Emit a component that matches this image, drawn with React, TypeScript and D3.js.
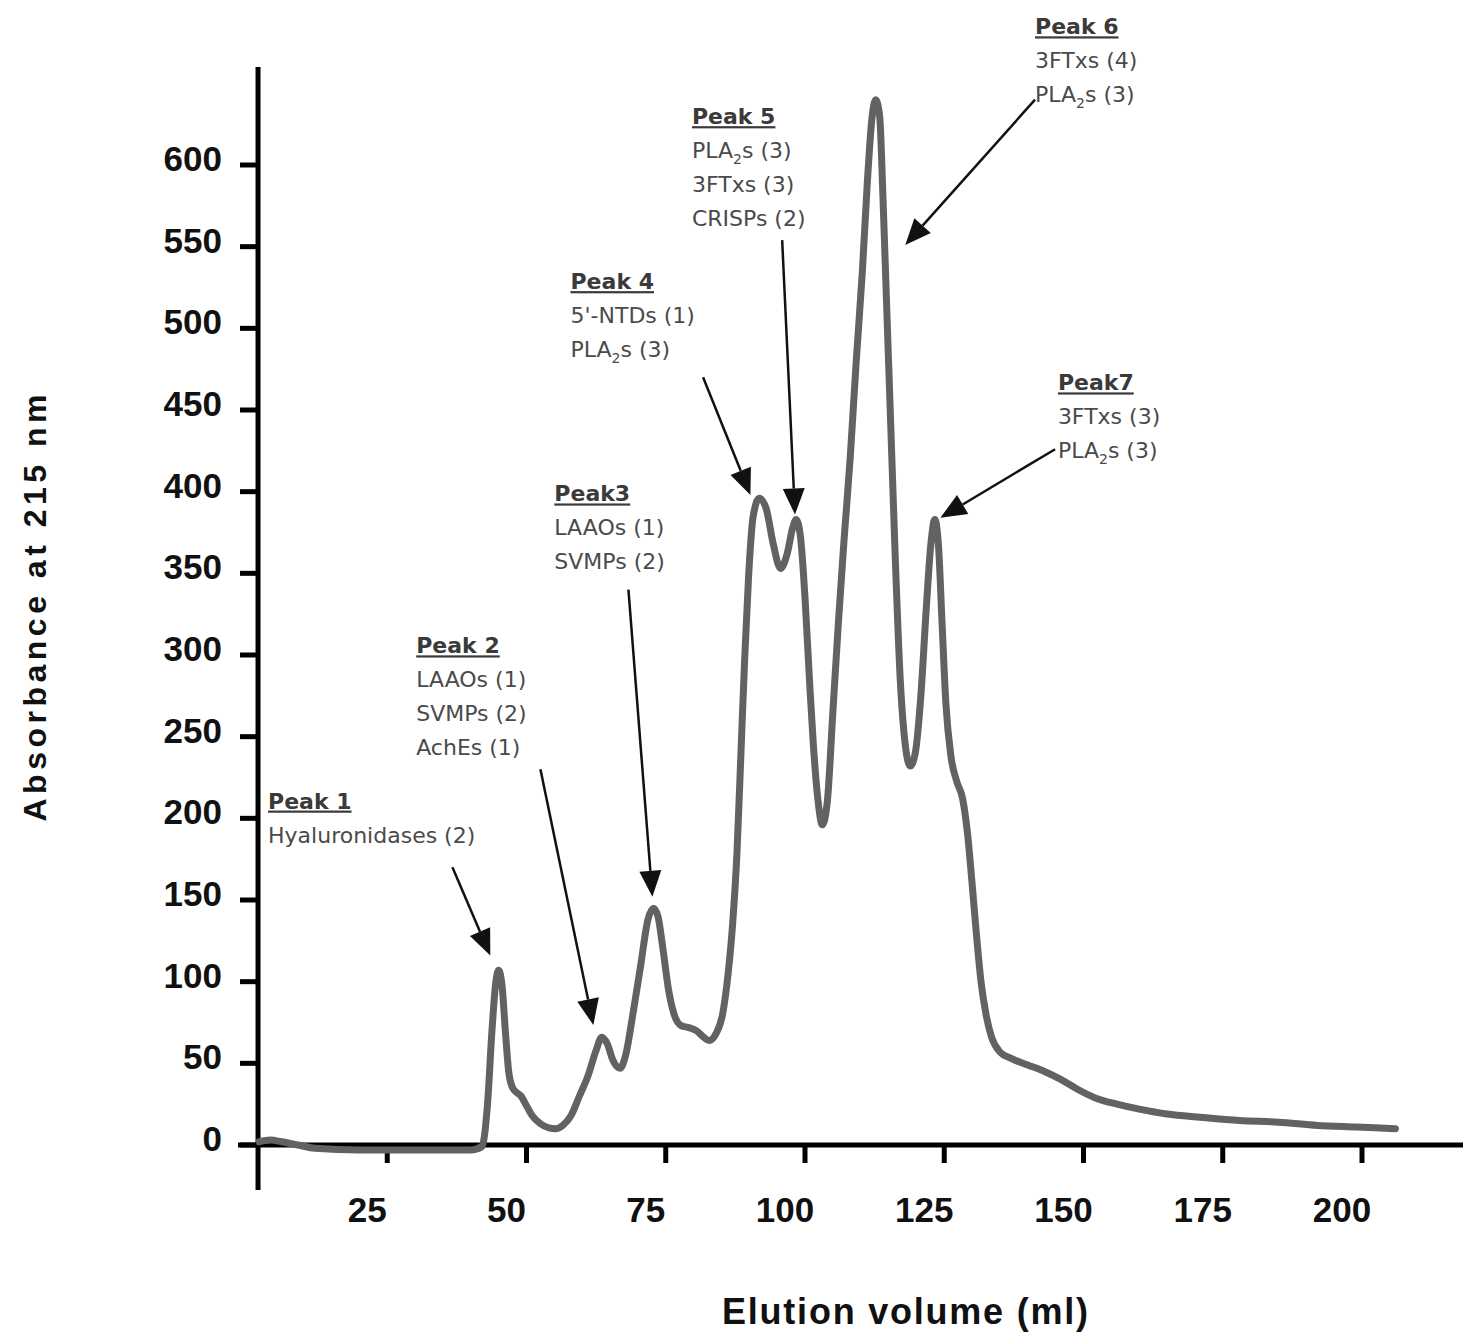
import React, { useEffect, useRef } from "react";
import * as d3 from "d3";

// elution profile
const elutionVolume = [
  2, 4, 6, 9, 12, 20, 30, 40, 42, 43, 43.8, 44.5, 45, 45.6, 46.2, 46.8, 47.5, 48.3, 49, 50,
  51, 52.5, 54, 55.2, 56.5, 58, 59.5, 61, 62.5, 63.5, 64.5, 65.5, 66.8, 67.8, 69, 70.5, 71.8, 72.8, 73.6, 74.5,
  75.5, 76.5, 77.8, 79, 80.5, 81.8, 82.8, 84, 85.2, 86.2, 87, 87.8, 88.5, 89.2, 89.9, 90.7, 91.8, 93, 94.3, 95.6,
  96.8, 97.8, 98.4, 99.2, 100, 100.8, 101.5, 102.3, 103.1, 104, 105, 106, 107, 108.1, 109.2, 110.3, 111.2, 112, 112.7, 113.4,
  114, 114.6, 115.4, 116.2, 117.1, 118, 118.9, 119.8, 120.8, 121.8, 122.6, 123.3, 124, 124.6, 125.3, 126.2, 127.3, 128.3, 129.2, 130,
  130.8, 131.6, 132.5, 133.5, 135, 137, 140, 143, 146, 149, 152, 156, 160, 165, 171, 178, 185, 192, 199, 206,
];
const absorbance = [
  2, 3, 2, 0, -2, -3, -3, -3, -1, 25, 70, 100, 107, 98, 70, 45, 35, 32, 30, 24,
  18, 13, 10.5, 10, 12, 18, 30, 42, 58, 66, 62, 52, 47, 55, 78, 110, 138, 145, 140, 120,
  95, 80, 73, 72, 70, 66, 64, 68, 80, 105, 135, 180, 240, 300, 350, 385, 396, 390, 368, 353,
  362, 378, 383, 372, 335, 285, 245, 212, 196, 210, 265, 320, 370, 420, 480, 535, 590, 628, 640, 630,
  580, 520, 440, 360, 285, 245, 232, 240, 275, 330, 368, 383, 365, 320, 270, 238, 222, 212, 190, 160,
  128, 100, 80, 66, 57, 53, 49, 45, 40, 34, 29, 25, 22, 19, 17, 15, 14, 12, 11, 10,
];

const xTicks = [25, 50, 75, 100, 125, 150, 175, 200];
const yTicks = [0, 50, 100, 150, 200, 250, 300, 350, 400, 450, 500, 550, 600];

// peak annotations ("_2" marks a subscript 2)
const peakTitles = ["Peak 1", "Peak 2", "Peak3", "Peak 4", "Peak 5", "Peak 6", "Peak7"];
const peakProteins = [
  ["Hyaluronidases (2)"],
  ["LAAOs (1)", "SVMPs (2)", "AchEs (1)"],
  ["LAAOs (1)", "SVMPs (2)"],
  ["5'-NTDs (1)", "PLA_2s (3)"],
  ["PLA_2s (3)", "3FTxs (3)", "CRISPs (2)"],
  ["3FTxs (4)", "PLA_2s (3)"],
  ["3FTxs (3)", "PLA_2s (3)"],
];
// label anchor in data units (volume, absorbance)
const labelVolume = [3.6, 30.2, 55.0, 57.9, 79.7, 141.3, 145.4];
const labelAbsorbance = [206, 301, 394, 524, 625, 680, 462];
// arrow tail and head in data units
const arrowFromVolume = [36.7, 52.5, 68.3, 81.7, 95.9, 141.3, 144.9];
const arrowFromAbsorbance = [170, 230, 340, 470, 554, 640, 426];
const arrowToVolume = [43.5, 62.0, 72.6, 90.2, 98.2, 118.0, 124.3];
const arrowToAbsorbance = [116, 73.5, 152, 398, 386, 551, 384];

const W = 1463;
const H = 1333;

export default function App() {
  const ref = useRef<SVGSVGElement>(null);

  useEffect(() => {
    const svg = d3.select(ref.current);
    svg.selectAll("*").remove();

    const x = d3.scaleLinear().domain([0, 200]).range([248, 1362]);
    const y = d3.scaleLinear().domain([0, 600]).range([1145, 165]);

    const axisX = x(1.8);

    // axes
    svg.append("line")
      .attr("x1", axisX).attr("x2", axisX)
      .attr("y1", y(660)).attr("y2", y(-27.5))
      .attr("stroke", "#000").attr("stroke-width", 5);
    svg.append("line")
      .attr("x1", axisX - 20).attr("x2", W)
      .attr("y1", y(0)).attr("y2", y(0))
      .attr("stroke", "#000").attr("stroke-width", 5);

    const yg = svg.append("g");
    yTicks.forEach((t) => {
      yg.append("line")
        .attr("x1", axisX - 18).attr("x2", axisX)
        .attr("y1", y(t)).attr("y2", y(t))
        .attr("stroke", "#000").attr("stroke-width", 5);
      yg.append("text")
        .attr("x", 222).attr("y", y(t) + 6)
        .attr("text-anchor", "end")
        .style("font", "bold 35px 'Liberation Sans', Arial, sans-serif")
        .style("fill", "#111")
        .text(t);
    });

    const xg = svg.append("g");
    xTicks.forEach((t) => {
      xg.append("line")
        .attr("x1", x(t)).attr("x2", x(t))
        .attr("y1", y(0)).attr("y2", y(0) + 18)
        .attr("stroke", "#000").attr("stroke-width", 5);
      xg.append("text")
        .attr("x", x(t) - 20).attr("y", 1222)
        .attr("text-anchor", "middle")
        .style("font", "bold 35px 'Liberation Sans', Arial, sans-serif")
        .style("fill", "#111")
        .text(t);
    });

    // axis titles
    svg.append("text")
      .attr("transform", "translate(46,608) rotate(-90)")
      .attr("text-anchor", "middle")
      .attr("textLength", 427)
      .attr("lengthAdjust", "spacing")
      .style("font", "bold 32px 'Liberation Sans', Arial, sans-serif")
      .style("fill", "#111")
      .text("Absorbance at 215 nm");
    svg.append("text")
      .attr("x", 905).attr("y", 1324)
      .attr("text-anchor", "middle")
      .attr("textLength", 366)
      .attr("lengthAdjust", "spacing")
      .style("font", "bold 36px 'Liberation Sans', Arial, sans-serif")
      .style("fill", "#111")
      .text("Elution volume (ml)");

    // chromatogram trace
    const pts: [number, number][] = elutionVolume.map((v, i) => [v, absorbance[i]]);
    const line = d3.line<[number, number]>()
      .x((d) => x(d[0]))
      .y((d) => y(d[1]))
      .curve(d3.curveMonotoneX);
    svg.append("path")
      .attr("d", line(pts))
      .attr("fill", "none")
      .attr("stroke", "#626262")
      .attr("stroke-width", 7)
      .attr("stroke-linejoin", "round")
      .attr("stroke-linecap", "round");

    // annotations
    const ann = svg.append("g");
    peakTitles.forEach((title, i) => {
      const lx = x(labelVolume[i]);
      const ly = y(labelAbsorbance[i]);
      ann.append("text")
        .attr("x", lx).attr("y", ly)
        .attr("text-decoration", "underline")
        .style("font", "bold 22px 'DejaVu Sans', Verdana, sans-serif")
        .style("fill", "#3a3a3a")
        .text(title);
      peakProteins[i].forEach((p, j) => {
        const t = ann.append("text")
          .attr("x", lx).attr("y", ly + 34 * (j + 1))
          .style("font", "22px 'DejaVu Sans', Verdana, sans-serif")
          .style("fill", "#4a4a4a");
        const parts = p.split("_");
        if (parts.length === 1) {
          t.text(p);
        } else {
          t.append("tspan").text(parts[0]);
          t.append("tspan").attr("dy", 6).style("font-size", "14px").text(parts[1][0]);
          t.append("tspan").attr("dy", -6).text(parts[1].slice(1));
        }
      });

      // arrow
      const x1 = x(arrowFromVolume[i]);
      const y1 = y(arrowFromAbsorbance[i]);
      const x2 = x(arrowToVolume[i]);
      const y2 = y(arrowToAbsorbance[i]);
      const ang = Math.atan2(y2 - y1, x2 - x1);
      const hl = 26;
      const hw = 11;
      const bx = x2 - hl * Math.cos(ang);
      const by = y2 - hl * Math.sin(ang);
      ann.append("line")
        .attr("x1", x1).attr("y1", y1)
        .attr("x2", bx).attr("y2", by)
        .attr("stroke", "#111").attr("stroke-width", 2.5);
      ann.append("polygon")
        .attr("points", [
          [x2, y2],
          [bx + hw * Math.sin(ang), by - hw * Math.cos(ang)],
          [bx - hw * Math.sin(ang), by + hw * Math.cos(ang)],
        ].map((p) => p.join(",")).join(" "))
        .attr("fill", "#111");
    });
  }, []);

  return (
    <svg
      ref={ref}
      width={W}
      height={H}
      style={{ position: "absolute", left: 0, top: 0, background: "#fff" }}
    />
  );
}
